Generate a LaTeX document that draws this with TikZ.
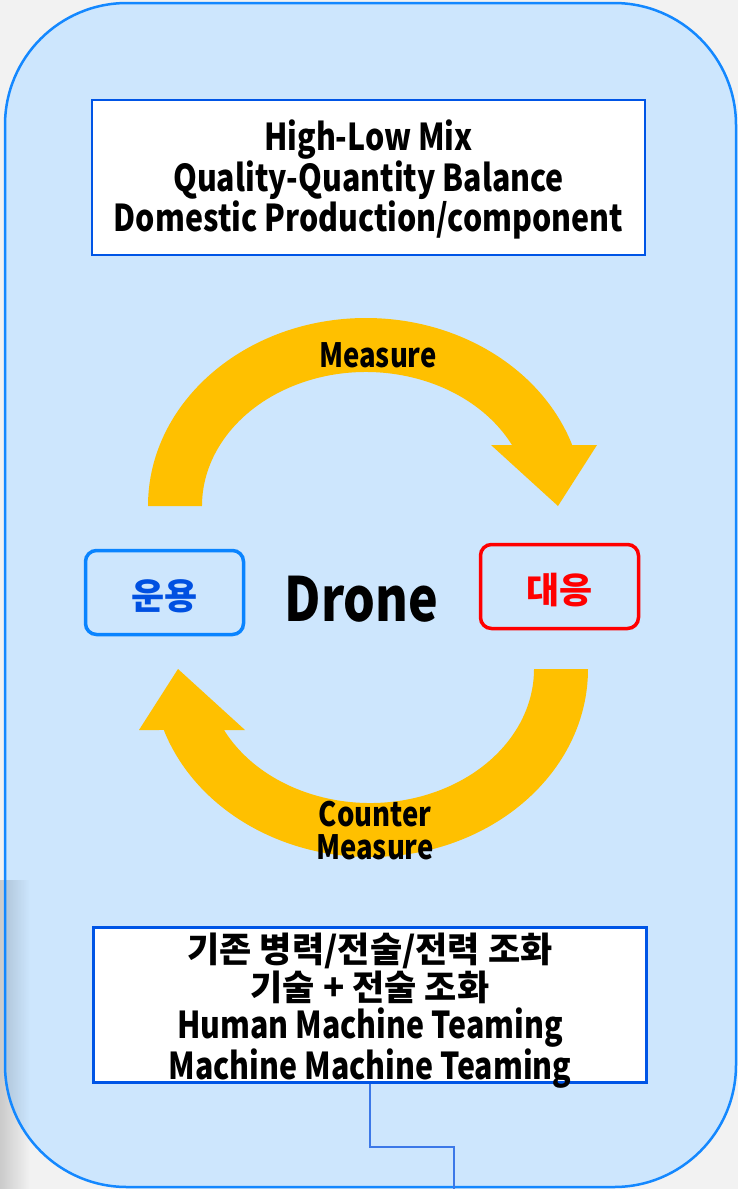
\documentclass[tikz,border=0pt]{standalone}
\usepackage{fontspec}
\setmainfont{Noto Sans CJK KR}[FakeStretch=0.82]
\newfontfamily\hanfont{Noto Sans CJK KR}[FakeStretch=1.0, Scale=0.946]
\newfontfamily\dronefont{Noto Sans CJK KR}[FakeStretch=0.82]
\usetikzlibrary{fadings}

\definecolor{bggray}{RGB}{242,242,242}
\definecolor{panelfill}{RGB}{205,230,253}
\definecolor{panelline}{RGB}{20,136,255}
\definecolor{boxline}{RGB}{0,85,230}
\definecolor{cyclegold}{RGB}{255,192,0}
\definecolor{useblue}{RGB}{10,132,255}
\definecolor{usetext}{RGB}{0,80,225}
\definecolor{linkblue}{RGB}{60,120,232}

\tikzset{
  mixbox/.style={draw=boxline, line width=2.5pt, fill=white, align=center,
    minimum width=553pt, minimum height=155pt, inner sep=0pt, text depth=0pt,
    font=\fontsize{37}{38}\selectfont\bfseries},
  sidebox/.style={line width=3.5pt, rounded corners=11pt, minimum width=158pt,
    minimum height=84pt, inner sep=0pt, text height=34pt, text depth=0pt,
    font=\hanfont\fontsize{38}{40}\selectfont\bfseries},
  cycletext/.style={inner sep=0pt, align=center, font=\fontsize{33.5}{33}\selectfont\bfseries},
  cyclearrow/.style={fill=cyclegold},
  link/.style={draw=linkblue, line width=1.5pt}
}

\begin{document}
\begin{tikzpicture}[x=1pt, y=-1pt]
  \fill[bggray] (0,0) rectangle (738,1189);
  \useasboundingbox (0,0) rectangle (738,1189);
  \fill[panelfill, rounded corners=122pt] (5,3) rectangle (736,1187);
  \fill[black, opacity=0.16, path fading=east] (0,880) rectangle (30,1189);
  \draw[panelline, line width=2.5pt, rounded corners=122pt] (5,3) rectangle (736,1187);

  % Measure / Counter Measure
  \foreach \r in {0,180}
    \fill[cyclearrow, rotate around={\r:(368,587.5)}]
      (148,506) arc[start angle=180, end angle=341.07, x radius=218, y radius=188]
      -- (597,445) -- (558,506) -- (491,445) -- (512,445)
      arc[start angle=332.92, end angle=180, x radius=164, y radius=134] -- cycle;

  \node[mixbox, text height=107pt] (mix) at (368.5,177.5) {High-Low Mix\\Quality-Quantity Balance\\Domestic Production/component};
  \node[cycletext] (measure) at (378,355) {Measure};
  \node[cycletext] (counter) at (375,830.5) {Counter\\Measure};
  \node[sidebox, draw=useblue, text=usetext] (use) at (164.5,592.5) {운용};
  \node[sidebox, draw=red, text=red] (respond) at (559.5,586.5) {대응};
  \node[inner sep=0pt, font=\dronefont\fontsize{61}{61}\selectfont\bfseries] (drone) at (361.5,599.5) {Drone};
  \node[mixbox, text height=148pt] (teaming) at (370,1005) {{\hanfont 기존 병력/전술/전력 조화}\\{\hanfont 기술 + 전술 조화}\\Human Machine Teaming\\Machine Machine Teaming};

  \coordinate (exit) at (454,1189);
  \draw[link] (teaming.south) -- ++(0,63) -| (exit);
\end{tikzpicture}
\end{document}
